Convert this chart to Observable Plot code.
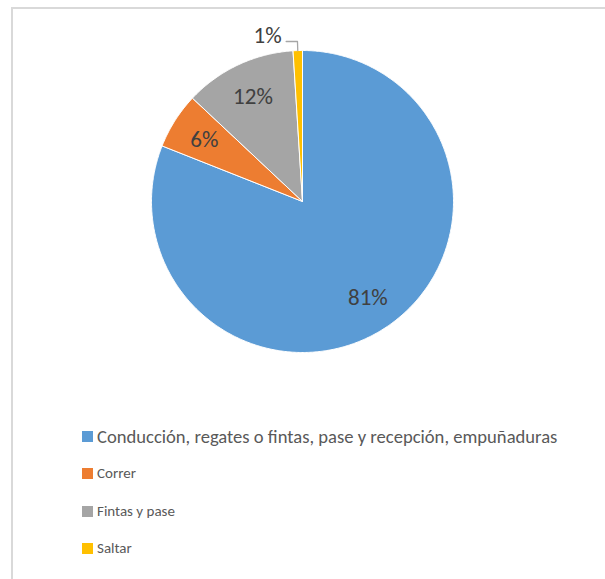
<!DOCTYPE html>
<html>
<head>
<meta charset="utf-8">
<script src="https://cdn.jsdelivr.net/npm/d3@7"></script>
<script src="https://cdn.jsdelivr.net/npm/@observablehq/plot@0.6"></script>
<style>
  html, body { margin: 0; padding: 0; background: #fff; }
  body { width: 605px; height: 579px; position: relative; overflow: hidden; font-family: Carlito, Lato, "Liberation Sans", sans-serif; }
  #frame { position: absolute; left: 11px; top: 7px; width: 700px; height: 700px; border-left: 2px solid #d9d9d9; border-top: 2px solid #d9d9d9; }
  #chart { position: absolute; left: 0; top: 0; }
  .leg { position: absolute; left: 82px; display: flex; align-items: center; color: #595959; white-space: nowrap; }
  .leg .sw { width: 11px; height: 11px; margin-right: 4px; flex: none; }
</style>
</head>
<body>
<div id="frame"></div>
<div id="chart"></div>
<div id="legend"></div>
<script>
const categories = ["Conducción, regates o fintas, pase y recepción, empuñaduras", "Correr", "Fintas y pase", "Saltar"];
const values = [81, 6, 12, 1];
const labels = ["81%", "6%", "12%", "1%"];
const colors = ["#5B9BD5", "#ED7D31", "#A5A5A5", "#FFC000"];

const data = categories.map((c, i) => ({category: c, value: values[i], label: labels[i]}));
const arcs = d3.pie().sort(null).value(d => d.value)(data);

// polygon points for each slice (angle 0 at top, clockwise)
const polys = [];
arcs.forEach(a => {
  const cat = a.data.category;
  polys.push({category: cat, x: 0, y: 0});
  const n = Math.max(2, Math.ceil((a.endAngle - a.startAngle) / (Math.PI / 360)));
  for (let k = 0; k <= n; k++) {
    const t = a.startAngle + (a.endAngle - a.startAngle) * k / n;
    polys.push({category: cat, x: Math.sin(t), y: Math.cos(t)});
  }
  polys.push({category: cat, x: 0, y: 0});
});

// inside labels
const labelR = 0.77;
const inside = arcs.filter(a => a.data.value >= 5).map(a => {
  const m = (a.startAngle + a.endAngle) / 2;
  return {label: a.data.label, x: labelR * Math.sin(m), y: labelR * Math.cos(m)};
});
// outside labels with leader lines
const leaders = [];
const outside = [];
arcs.filter(a => a.data.value < 5).forEach(a => {
  const m = (a.startAngle + a.endAngle) / 2;
  const p0 = {x: Math.sin(m), y: Math.cos(m)};
  const p1 = {x: 1.06 * Math.sin(m), y: 1.06 * Math.cos(m)};
  const p2 = {x: p1.x - 0.075, y: p1.y};
  leaders.push({id: a.data.category, ...p0}, {id: a.data.category, ...p1}, {id: a.data.category, ...p2});
  outside.push({label: a.data.label, x: p2.x - 0.03, y: p2.y + 0.04});
});

const cx = 302, cy = 201, R = 151;
const plot = Plot.plot({
  width: 605,
  height: 400,
  margin: 0,
  x: {domain: [-1, 1], range: [cx - R, cx + R], axis: null},
  y: {domain: [-1, 1], range: [cy + R, cy - R], axis: null},
  color: {domain: categories, range: colors},
  style: {fontFamily: "Carlito, Lato, 'Liberation Sans', sans-serif", background: "transparent"},
  marks: [
    Plot.line(polys, {x: "x", y: "y", z: "category", fill: "category", stroke: "white", strokeWidth: 1, strokeLinejoin: "round"}),
    Plot.line(leaders, {x: "x", y: "y", z: "id", stroke: "#a6a6a6", strokeWidth: 1.3}),
    Plot.text(inside, {x: "x", y: "y", text: "label", fill: "#404040", fontSize: 23}),
    Plot.text(outside, {x: "x", y: "y", text: "label", fill: "#404040", fontSize: 23, textAnchor: "end"})
  ]
});
document.getElementById("chart").appendChild(plot);

// legend
const legTops = [436, 473, 511, 548];
const legSizes = [18.6, 15, 15, 15];
const legend = document.getElementById("legend");
categories.forEach((c, i) => {
  const item = document.createElement("div");
  item.className = "leg";
  item.style.top = (legTops[i] - 12) + "px";
  item.style.height = "24px";
  item.style.fontSize = legSizes[i] + "px";
  const sw = document.createElement("span");
  sw.className = "sw";
  sw.style.background = colors[i];
  const tx = document.createElement("span");
  tx.textContent = c;
  item.appendChild(sw);
  item.appendChild(tx);
  legend.appendChild(item);
});
</script>
</body>
</html>
